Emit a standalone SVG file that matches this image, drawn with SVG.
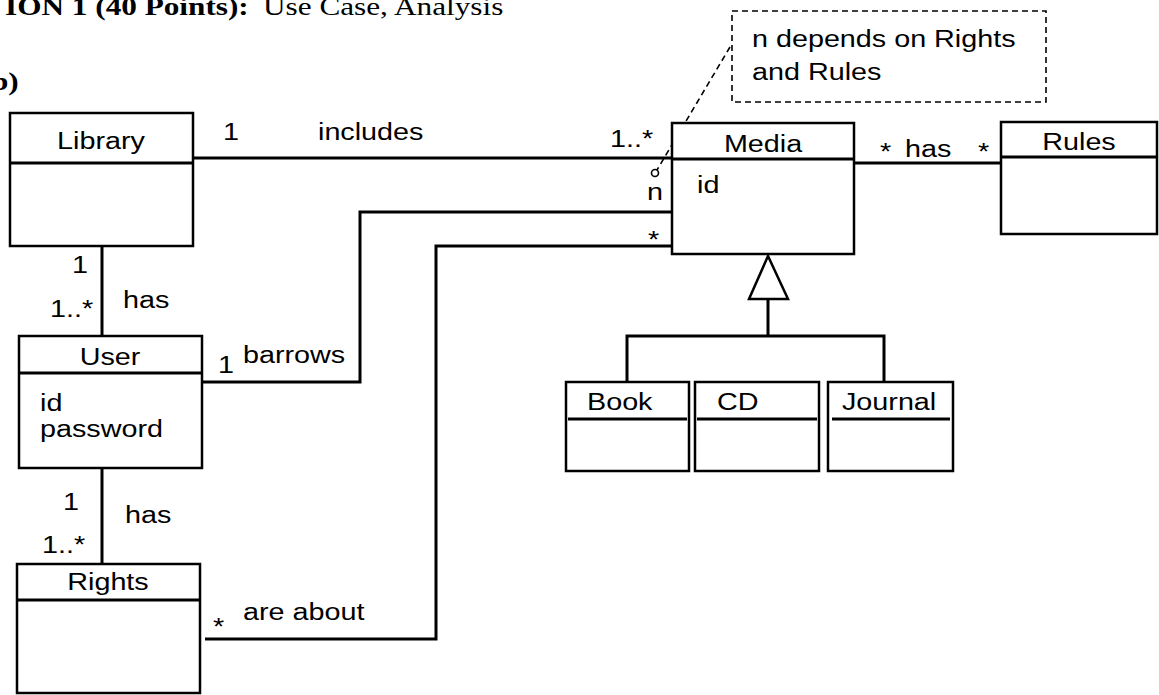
<svg xmlns="http://www.w3.org/2000/svg" width="1159" height="695" viewBox="0 0 1159 695">
<style>
.bg{fill:#fff}
.box{fill:#fff;stroke:#000;stroke-width:2.5}
.div{stroke:#000;stroke-width:3}
.ln{fill:none;stroke:#000;stroke-width:3}
.t{font-family:"Liberation Sans",Arial,sans-serif;font-size:23px;fill:#000}
.m{text-anchor:middle}
.tb{font-family:"Liberation Serif","Times New Roman",serif;font-size:25px;font-weight:bold;fill:#000}
.tr{font-family:"Liberation Serif","Times New Roman",serif;font-size:25px;fill:#000}
.note{fill:none;stroke:#000;stroke-width:1.6;stroke-dasharray:6 4}
</style>
<rect class="bg" x="0" y="0" width="1159" height="695"/>
<g id="title">
<text class="tb" transform="translate(5,15) scale(1.25,1)">ION 1 (40 Points):</text>
<text class="tr" transform="translate(263,15) scale(1.25,1)">Use Case, Analysis</text>
<text class="tb" transform="translate(-9,90) scale(1.25,1)">b)</text>
</g>
<g id="connectors">
<line class="ln" x1="190" y1="158" x2="672" y2="158"/>
<line class="ln" x1="102" y1="246" x2="102" y2="336"/>
<line class="ln" x1="102" y1="468" x2="102" y2="564"/>
<polyline class="ln" points="202,382 360,382 360,212 672,212"/>
<polyline class="ln" points="205,639 436,639 436,246 672,246"/>
<line class="ln" x1="854" y1="163" x2="1001" y2="163"/>
<line class="ln" x1="768" y1="299" x2="768" y2="336"/>
<polyline class="ln" points="627,382 627,336 884,336 884,382"/>
<polygon points="768,256 749,299 788,299" fill="#fff" stroke="#000" stroke-width="2.5"/>
<line class="note" x1="730" y1="47" x2="657" y2="170"/>
<circle cx="655" cy="173" r="3.5" fill="#fff" stroke="#000" stroke-width="1.6"/>
<text class="t" transform="translate(223,140) scale(1.25,1)">1</text>
<text class="t" transform="translate(318,140) scale(1.25,1)">includes</text>
<text class="t" transform="translate(610,147) scale(1.25,1)">1..*</text>
<text class="t" transform="translate(647,200) scale(1.25,1)">n</text>
<text class="t" transform="translate(648,248) scale(1.25,1)">*</text>
<text class="t" transform="translate(880,160) scale(1.25,1)">*</text>
<text class="t" transform="translate(905,157) scale(1.25,1)">has</text>
<text class="t" transform="translate(978,160) scale(1.25,1)">*</text>
<text class="t" transform="translate(72,273) scale(1.25,1)">1</text>
<text class="t" transform="translate(50,317) scale(1.25,1)">1..*</text>
<text class="t" transform="translate(123,308) scale(1.25,1)">has</text>
<text class="t" transform="translate(218,373) scale(1.25,1)">1</text>
<text class="t" transform="translate(243,363) scale(1.25,1)">barrows</text>
<text class="t" transform="translate(63,510) scale(1.25,1)">1</text>
<text class="t" transform="translate(125,523) scale(1.25,1)">has</text>
<text class="t" transform="translate(42,553) scale(1.25,1)">1..*</text>
<text class="t" transform="translate(213,635) scale(1.25,1)">*</text>
<text class="t" transform="translate(243,620) scale(1.25,1)">are about</text>
</g>
<g id="note">
<rect class="note" x="732" y="11" width="314" height="91"/>
<text class="t" transform="translate(752,47) scale(1.25,1)">n depends on Rights</text>
<text class="t" transform="translate(752,80) scale(1.25,1)">and Rules</text>
</g>
<g id="library">
<rect class="box" x="10" y="113" width="183" height="133"/>
<line class="div" x1="10" y1="163" x2="193" y2="163"/>
<text class="t m" transform="translate(101,149) scale(1.25,1)">Library</text>
</g>
<g id="media">
<rect class="box" x="672" y="123" width="182" height="131"/>
<line class="div" x1="672" y1="159" x2="854" y2="159"/>
<text class="t m" transform="translate(763,152) scale(1.25,1)">Media</text>
<text class="t" transform="translate(697,193) scale(1.25,1)">id</text>
</g>
<g id="rules">
<rect class="box" x="1001" y="122" width="156" height="112"/>
<line class="div" x1="1001" y1="157" x2="1157" y2="157"/>
<text class="t m" transform="translate(1079,150) scale(1.25,1)">Rules</text>
</g>
<g id="user">
<rect class="box" x="19" y="336" width="183" height="132"/>
<line class="div" x1="19" y1="373" x2="202" y2="373"/>
<text class="t m" transform="translate(110,365) scale(1.25,1)">User</text>
<text class="t" transform="translate(40,411) scale(1.25,1)">id</text>
<text class="t" transform="translate(40,437) scale(1.25,1)">password</text>
</g>
<g id="rights">
<rect class="box" x="17" y="564" width="183" height="129"/>
<line class="div" x1="17" y1="600" x2="200" y2="600"/>
<text class="t m" transform="translate(108,590) scale(1.25,1)">Rights</text>
</g>
<g id="book">
<rect class="box" x="566" y="382" width="123" height="89"/>
<line class="div" x1="568" y1="419" x2="687" y2="419"/>
<text class="t" transform="translate(587,410) scale(1.25,1)">Book</text>
</g>
<g id="cd">
<rect class="box" x="695" y="382" width="124" height="89"/>
<line class="div" x1="697" y1="419" x2="817" y2="419"/>
<text class="t" transform="translate(717,410) scale(1.25,1)">CD</text>
</g>
<g id="journal">
<rect class="box" x="828" y="382" width="125" height="89"/>
<line class="div" x1="832" y1="419" x2="950" y2="419"/>
<text class="t" transform="translate(842,410) scale(1.25,1)">Journal</text>
</g>
</svg>
